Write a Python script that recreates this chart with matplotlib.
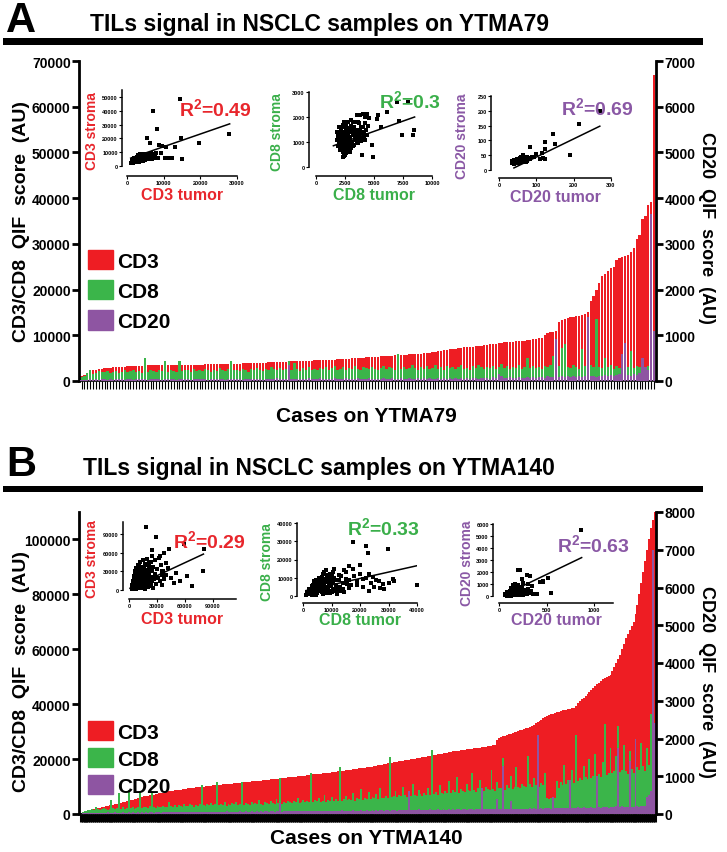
import numpy as np
import matplotlib
matplotlib.use('Agg')
import matplotlib.pyplot as plt
from matplotlib.patches import Rectangle, Patch

W, H, DPI = 727, 853, 100
FAM = ['Liberation Sans', 'DejaVu Sans']
plt.rcParams['font.family'] = FAM
plt.rcParams['font.weight'] = 'bold'
plt.rcParams['mathtext.fontset'] = 'custom'
plt.rcParams['mathtext.rm'] = 'Liberation Sans:bold'
plt.rcParams['mathtext.bf'] = 'Liberation Sans:bold'
plt.rcParams['mathtext.it'] = 'Liberation Sans:bold'

RED, GREEN, PURPLE = '#EE1D23', '#3BB54A', '#8E55A2'
TRED, TGREEN, TPURPLE = '#E8262C', '#3AAF4A', '#8A58A5'

# ---------------- Panel A data (YTMA79) ----------------
# CD3 (x100), CD8 (x100) on left axis; CD20 (x10) on right axis
a_cd3 = [10, 13, 17, 20, 23, 25, 26, 27, 28, 29,
         29, 30, 30, 31, 31, 31, 32, 32, 32, 33,
         33, 33, 33, 34, 34, 34, 34, 34, 35, 35,
         35, 35, 35, 35, 35, 36, 36, 36, 36, 36,
         36, 36, 36, 37, 37, 37, 37, 37, 37, 37,
         38, 38, 38, 38, 38, 38, 39, 39, 39, 39,
         39, 40, 40, 40, 40, 41, 41, 41, 41, 42,
         42, 42, 42, 43, 43, 43, 43, 44, 44, 44,
         44, 45, 45, 45, 46, 46, 46, 47, 47, 48,
         48, 48, 49, 49, 50, 50, 50, 51, 51, 52,
         52, 52, 53, 53, 54, 54, 54, 55, 55, 56,
         56, 56, 57, 57, 58, 58, 59, 59, 60, 61,
         61, 62, 63, 64, 65, 66, 67, 68, 69, 70,
         71, 72, 73, 74, 74, 75, 75, 76, 76, 77,
         78, 79, 80, 81, 82, 83, 84, 85, 85, 86,
         86, 87, 87, 88, 88, 89, 90, 91, 92, 93,
         95, 100, 105, 107, 108, 110, 130, 133, 135, 137,
         139, 140, 142, 143, 145, 147, 150, 175, 185, 200,
         215, 230, 235, 240, 248, 250, 265, 270, 272, 274,
         276, 282, 290, 310, 320, 355, 360, 385, 392, 670]
a_cd8 = [8, 12, 18, 25, 16, 18, 22, 19, 20, 21,
         17, 19, 22, 18, 20, 24, 19, 21, 23, 20,
         22, 18, 51, 20, 24, 21, 19, 23, 22, 44,
         20, 24, 22, 19, 44, 21, 25, 23, 20, 26,
         22, 24, 21, 27, 23, 20, 25, 22, 28, 24,
         21, 26, 43, 23, 25, 22, 27, 24, 20, 26,
         23, 28, 25, 22, 27, 24, 30, 26, 23, 29,
         25, 27, 44, 24, 40, 26, 22, 28, 25, 30,
         24, 27, 23, 29, 26, 31, 24, 28, 33, 25,
         27, 30, 24, 28, 26, 32, 27, 25, 30, 28,
         26, 31, 27, 24, 29, 33, 26, 30, 28, 25,
         60, 27, 31, 26, 29, 34, 28, 25, 30, 27,
         32, 26, 29, 35, 27, 30, 25, 33, 28, 31,
         26, 30, 34, 27, 29, 25, 32, 28, 36, 30,
         27, 31, 29, 33, 26, 30, 38, 28, 32, 27,
         31, 29, 34, 27, 30, 50, 28, 33, 29, 31,
         27, 32, 30, 35, 55, 29, 33, 72, 80, 30,
         28, 34, 31, 27, 70, 33, 29, 36, 30, 135,
         31, 28, 50, 30, 34, 27, 32, 29, 36, 75,
         31, 65, 28, 33, 30, 35, 29, 32, 55, 30]
a_cd20 = [2, 3, 3, 4, 3, 4, 3, 4, 4, 3,
          4, 3, 4, 4, 5, 3, 4, 4, 3, 4,
          4, 5, 4, 3, 4, 4, 5, 4, 3, 4,
          5, 4, 4, 3, 5, 4, 4, 5, 3, 4,
          4, 5, 4, 4, 3, 5, 4, 4, 5, 4,
          3, 4, 5, 4, 4, 5, 3, 4, 4, 5,
          4, 4, 5, 3, 4, 5, 4, 4, 6, 4,
          5, 4, 35, 4, 5, 4, 4, 5, 4, 6,
          4, 5, 4, 6, 4, 5, 4, 4, 6, 5,
          4, 5, 6, 4, 5, 4, 6, 5, 4, 5,
          6, 4, 5, 5, 4, 6, 5, 4, 6, 5,
          5, 6, 4, 5, 6, 5, 4, 6, 5, 6,
          5, 6, 5, 4, 6, 5, 7, 5, 6, 5,
          6, 5, 7, 5, 6, 5, 6, 7, 5, 6,
          7, 6, 5, 8, 6, 15, 12, 7, 6, 8,
          6, 7, 8, 6, 7, 9, 7, 8, 6, 9,
          8, 7, 10, 8, 9, 91, 8, 10, 9, 12,
          8, 10, 9, 11, 9, 10, 139, 10, 12, 9,
          11, 10, 13, 12, 14, 11, 13, 15, 60, 84,
          14, 12, 16, 13, 18, 50, 30, 25, 365, 110]

# ---------------- Panel B data (YTMA140) ----------------
# CD3 (x100), CD8 (x100) on left axis; CD20 (x10) on right axis
b_cd3 = [5, 6, 8, 10, 12, 14, 16, 18, 20,
         21, 23, 24, 26, 28, 29, 31, 32, 34, 35, 37, 39,
         40, 42, 44, 46, 48, 50, 52, 54, 56, 58, 60, 63,
         64, 66, 67, 68, 70, 71, 72, 74, 75, 76, 78, 79, 80, 82, 83, 84, 86, 87, 88, 89, 90, 91, 92, 94,
         95, 96, 96, 97, 98, 99, 99, 100, 101, 102, 102, 103, 104, 105, 105, 106, 107, 108, 108, 109, 110, 111, 111, 112,
         113, 113, 114, 115, 116, 116, 117, 118, 119, 119, 120, 121, 122, 122, 123, 124, 125, 125, 126, 127, 128, 128, 129, 130,
         131, 132, 132, 133, 134, 135, 136, 136, 137, 138, 139, 140, 140, 141, 142, 143, 144, 144, 145, 146, 147, 148, 148, 149,
         150, 151, 152, 153, 154, 155, 156, 157, 158, 159, 160, 161, 162, 163, 164, 165, 166, 167, 168, 169, 170, 171, 172, 173,
         174, 176, 177, 178, 180, 181, 182, 184, 185, 186, 188, 189, 190, 192, 193, 194, 196, 197, 198, 200, 201, 202, 203, 204,
         205, 206, 208, 209, 210, 212, 213, 214, 216, 217, 218, 220, 221, 222, 224, 225, 226, 228, 229, 230, 231, 232, 233, 234,
         235, 236, 237, 238, 239, 240, 241, 242, 243, 244, 245, 246, 248, 249, 250, 252,
         270, 277, 280, 283, 285, 287, 290,
         292, 295, 297, 300, 302, 305, 307, 310, 312, 315, 317, 320,
         325, 330, 335, 340, 344, 348, 352, 356, 360, 363, 366, 369,
         371, 373, 375, 377, 379, 380, 382, 383, 385, 386,
         395, 405, 412, 418, 423,
         430, 438, 445, 452, 458, 465, 472,
         478, 484, 490, 495, 500, 504, 508,
         520, 535, 550, 565, 580,
         600, 620, 640, 655, 670, 685, 700,
         730, 760, 800, 840, 880, 920, 960, 1000, 1040, 1070, 1100]
b_cd8 = [5, 8, 10, 12, 15, 14, 18, 16, 25, 17,
         15, 19, 22, 18, 16, 20, 51, 21, 17, 23,
         76, 19, 24, 20, 22, 88, 21, 25, 19, 23,
         26, 82, 22, 27, 24, 21, 28, 82, 25, 23,
         29, 26, 24, 30, 27, 25, 45, 28, 26, 31,
         27, 33, 29, 26, 38, 30, 28, 35, 31, 27,
         34, 30, 36, 106, 32, 29, 37, 33, 40, 31,
         35, 115, 32, 38, 34, 42, 30, 36, 33, 39,
         35, 44, 32, 37, 118, 34, 40, 36, 33, 45,
         37, 41, 35, 50, 38, 34, 42, 39, 36, 47,
         40, 37, 55, 41, 130, 38, 44, 40, 48, 42,
         39, 46, 43, 60, 41, 45, 52, 42, 47, 44,
         149, 43, 50, 46, 58, 44, 49, 70, 45, 52,
         48, 62, 46, 53, 49, 171, 47, 55, 66, 50,
         56, 52, 75, 49, 58, 54, 90, 51, 60, 56,
         80, 53, 62, 58, 72, 55, 95, 60, 57, 64,
         59, 207, 61, 66, 85, 62, 70, 64, 100, 68,
         63, 78, 66, 110, 69, 65, 88, 72, 67, 75,
         70, 95, 68, 232, 73, 80, 71, 105, 76, 74,
         82, 78, 120, 75, 86, 80, 135, 77, 90, 84,
         79, 110, 88, 82, 150, 86, 81, 95, 125, 89,
         84, 100, 92, 87, 160, 90, 85, 115, 95, 93,
         204, 88, 105, 96, 140, 92, 100, 170, 98, 94,
         110, 102, 97, 210, 108, 100, 130, 104, 256, 99,
         112, 107, 150, 60, 55, 58, 62, 57, 120, 96,
         115, 105, 180, 110, 125, 118, 160, 112, 289, 120,
         130, 125, 175, 135, 128, 200, 132, 140, 220, 138,
         145, 135, 190, 326, 142, 150, 240, 148, 155, 210,
         322, 152, 160, 250, 158, 145, 230, 165, 150, 200,
         170, 160, 260, 175, 155, 240, 180, 365, 190, 140]
b_cd20 = [1, 2, 2, 3, 2, 3, 2, 3, 3, 2,
          3, 3, 2, 3, 4, 3, 3, 2, 4, 3,
          3, 3, 4, 3, 3, 4, 3, 4, 3, 3,
          4, 3, 4, 3, 4, 3, 4, 4, 3, 5,
          4, 4, 3, 5, 4, 4, 5, 4, 5, 4,
          5, 4, 4, 5, 5, 4, 6, 5, 4, 5,
          5, 6, 4, 5, 5, 6, 5, 5, 6, 5,
          6, 5, 6, 5, 6, 5, 7, 6, 5, 6,
          5, 6, 6, 7, 5, 6, 7, 6, 6, 7,
          6, 6, 7, 6, 7, 6, 8, 7, 6, 7,
          7, 6, 8, 7, 30, 6, 7, 8, 7, 8,
          7, 7, 8, 7, 8, 7, 9, 8, 7, 8,
          8, 7, 9, 8, 8, 7, 9, 8, 8, 9,
          8, 8, 9, 8, 9, 8, 10, 9, 8, 9,
          9, 8, 10, 9, 9, 8, 10, 9, 9, 10,
          9, 9, 10, 9, 10, 9, 11, 10, 9, 10,
          10, 9, 11, 10, 10, 9, 11, 10, 10, 11,
          10, 60, 11, 10, 11, 10, 12, 11, 10, 11,
          11, 10, 12, 11, 11, 10, 12, 11, 11, 12,
          11, 11, 12, 11, 12, 11, 13, 12, 11, 12,
          12, 11, 13, 12, 12, 11, 13, 12, 13, 70,
          12, 12, 13, 12, 13, 12, 14, 40, 12, 13,
          126, 12, 14, 13, 35, 12, 14, 13, 13, 14,
          13, 13, 14, 13, 15, 14, 15, 14, 210, 14,
          15, 14, 16, 15, 15, 14, 45, 15, 15, 16,
          16, 15, 17, 16, 16, 90, 17, 16, 16, 18,
          17, 16, 18, 17, 17, 16, 18, 17, 17, 100,
          18, 17, 19, 18, 18, 17, 19, 18, 18, 20,
          175, 18, 20, 19, 19, 18, 140, 19, 19, 200,
          20, 19, 21, 20, 20, 45, 50, 60, 700, 240]

# ---------------- Inset scatter data ----------------
# panel A, CD3 tumor vs stroma (x100)
a_cd3_pts = [(12, 25), (15, 30), (18, 28), (20, 35), (22, 32), (14, 40), (25, 38), (28, 30), (30, 42), (16, 22),
             (19, 45), (24, 27), (26, 50), (32, 36), (35, 40), (21, 33), (27, 44), (33, 55), (38, 48), (17, 35),
             (23, 29), (29, 37), (31, 46), (36, 33), (40, 52), (42, 45), (13, 33), (34, 62), (45, 58), (37, 70),
             (48, 42), (50, 65), (44, 38), (39, 60), (52, 50), (55, 72), (47, 80), (41, 56), (58, 48), (60, 62),
             (62, 85), (46, 90), (54, 55), (65, 70), (43, 75), (57, 88), (68, 52), (35, 90), (30, 78), (26, 65),
             (20, 55), (24, 48), (28, 58), (33, 45), (36, 52), (41, 40), (15, 50), (18, 42), (22, 60), (27, 36),
             (32, 28), (38, 34), (44, 50), (49, 46), (53, 60), (59, 80), (63, 55), (70, 68), (72, 90), (75, 85),
             (80, 60), (85, 55), (66, 95), (78, 95),
             (144, 483), (70, 395), (81, 268), (54, 200), (63, 170), (96, 146), (106, 141), (131, 134),
             (147, 200), (196, 163), (151, 49), (122, 61), (104, 61), (279, 232), (111, 56), (88, 150), (92, 95)]
a_cd3_fit = ([1000, 28000], [5700, 30500])
# panel A, CD8 (x10)
a_cd8_pts = [(180, 110), (200, 95), (210, 130), (220, 80), (230, 120), (240, 100), (250, 140), (260, 90), (270, 115), (280, 105),
             (190, 125), (205, 70), (215, 150), (225, 105), (235, 85), (245, 160), (255, 110), (265, 75), (275, 130), (285, 95),
             (195, 100), (210, 115), (220, 140), (230, 60), (240, 135), (250, 120), (260, 165), (270, 88), (280, 125), (290, 110),
             (300, 140), (310, 100), (320, 130), (330, 160), (340, 110), (350, 150), (360, 120), (370, 175), (380, 135), (390, 105),
             (200, 140), (215, 95), (225, 160), (235, 125), (245, 70), (255, 145), (265, 100), (275, 155), (285, 140), (295, 120),
             (305, 165), (315, 85), (325, 145), (335, 125), (345, 180), (355, 135), (365, 95), (375, 150), (385, 160), (400, 140),
             (410, 120), (420, 175), (430, 150), (440, 130), (450, 165), (320, 180), (300, 75), (290, 60), (260, 55), (240, 45),
             (230, 40), (250, 50), (270, 65), (280, 180), (240, 180), (230, 170), (300, 190), (310, 150), (330, 90), (350, 105),
             (360, 180), (370, 125), (395, 115), (405, 160), (415, 135), (425, 110), (210, 105), (220, 90), (245, 115), (265, 130),
             (275, 110), (285, 80), (295, 145), (190, 85), (185, 140), (200, 160), (205, 120), (350, 210), (380, 210), (420, 200),
             (408, 213), (437, 213), (523, 193), (532, 207), (609, 220), (695, 260), (715, 183), (738, 129), (839, 127),
             (845, 150), (796, 260), (494, 40), (394, 47), (293, 67), (560, 160), (480, 90), (460, 195)]
a_cd8_fit = ([1500, 8500], [850, 2000])
# panel A, CD20
a_cd20_pts = [(35, 25), (38, 30), (40, 22), (42, 28), (44, 33), (46, 26), (48, 30), (50, 24), (52, 35), (54, 28),
              (36, 32), (39, 20), (41, 35), (43, 24), (45, 30), (47, 38), (49, 27), (51, 31), (53, 25), (55, 40),
              (57, 29), (59, 33), (61, 26), (63, 36), (65, 30), (67, 42), (69, 28), (71, 35), (73, 32), (75, 45),
              (58, 44), (62, 38), (66, 34), (70, 40), (74, 30), (78, 36), (80, 42), (84, 38), (88, 44), (64, 50),
              (56, 36), (60, 31), (68, 37), (72, 27), (37, 27), (46, 34), (50, 29), (54, 33), (44, 22), (76, 33),
              (83, 78), (123, 94), (145, 120), (151, 89), (123, 70), (119, 39), (123, 37), (115, 56), (191, 51),
              (215, 156), (270, 198), (110, 37), (100, 55), (95, 45)]
a_cd20_fit = ([40, 270], [7, 148])
# panel B, CD3 (x1000)
b_cd3_pts = [(3, 2), (4, 5), (5, 1), (5, 8), (6, 3), (6, 12), (7, 6), (7, 15), (8, 2), (8, 10),
             (9, 18), (9, 5), (10, 8), (10, 22), (11, 3), (11, 14), (12, 26), (12, 9), (13, 4), (13, 17),
             (14, 30), (14, 11), (15, 6), (15, 20), (16, 35), (16, 13), (17, 2), (17, 24), (18, 9), (18, 40),
             (19, 15), (19, 28), (20, 5), (20, 33), (21, 19), (21, 42), (22, 11), (22, 25), (23, 36), (23, 7),
             (24, 21), (24, 45), (25, 14), (25, 30), (26, 3), (26, 38), (27, 18), (28, 48), (28, 26), (29, 10),
             (30, 34), (31, 20), (32, 52), (33, 15), (34, 40), (35, 25), (36, 8), (37, 30), (38, 18), (40, 44),
             (4, 12), (5, 18), (6, 25), (7, 30), (8, 22), (9, 35), (10, 28), (11, 40), (12, 45), (13, 33),
             (6, 7), (7, 1), (8, 14), (9, 26), (10, 3), (11, 30), (12, 16), (13, 38), (14, 22), (15, 48),
             (16, 4), (17, 31), (18, 20), (19, 50), (20, 12), (21, 27), (22, 38), (23, 16), (24, 30), (25, 55),
             (3, 8), (4, 15), (5, 22), (6, 30), (7, 20), (8, 35), (9, 12), (10, 40), (11, 23), (12, 34),
             (14, 4), (16, 26), (18, 32), (20, 22), (22, 46), (24, 10), (26, 20), (15, 38), (13, 26), (17, 42),
             (18, 102), (29, 86), (25, 64), (43, 66), (59, 74), (81, 66), (79, 30), (68, 7), (45, 20), (50, 28),
             (55, 15), (38, 60), (35, 30), (42, 35), (48, 12), (62, 22), (33, 55), (40, 25)]
b_cd3_fit = ([1000, 80000], [2800, 58100])
# panel B, CD8 (x100)
b_cd8_pts = [(10, 5), (15, 20), (20, 10), (25, 30), (30, 15), (35, 40), (40, 25), (45, 8), (50, 50), (55, 30),
             (60, 60), (65, 20), (70, 45), (75, 70), (80, 35), (85, 90), (90, 55), (95, 15), (100, 75), (105, 40),
             (110, 100), (115, 60), (120, 30), (125, 85), (130, 50), (135, 110), (140, 70), (145, 20), (150, 95), (155, 65),
             (20, 40), (30, 55), (40, 70), (50, 85), (60, 100), (70, 120), (80, 140), (90, 80), (100, 110), (110, 150),
             (25, 15), (35, 25), (45, 35), (55, 45), (65, 55), (75, 65), (85, 75), (95, 120), (105, 130), (115, 90),
             (30, 5), (40, 12), (50, 18), (60, 25), (70, 10), (80, 15), (90, 28), (100, 20), (120, 12), (130, 25),
             (50, 65), (60, 40), (70, 80), (80, 95), (90, 110), (65, 105), (75, 130), (85, 115), (45, 60), (55, 75),
             (35, 60), (40, 45), (45, 90), (55, 100), (60, 80), (70, 65), (85, 50), (95, 95), (105, 70), (125, 115),
             (140, 40), (150, 130), (160, 85), (170, 60), (180, 110), (160, 45), (175, 150), (190, 80), (200, 120), (210, 95),
             (28, 35), (38, 80), (48, 30), (58, 55), (68, 35), (78, 50), (88, 40), (98, 60), (108, 25), (118, 45),
             (176, 295), (222, 275), (228, 235), (298, 260), (315, 95), (400, 60), (200, 170), (160, 165), (145, 140),
             (220, 100), (240, 70), (250, 50), (270, 45), (280, 65), (265, 80), (190, 60), (210, 50), (230, 30),
             (180, 110), (230, 120), (255, 90), (300, 70), (320, 80), (285, 40), (245, 105)]
b_cd8_fit = ([1000, 40000], [2950, 16600])
# panel B, CD20
b_cd20_pts = [(60, 50), (70, 120), (80, 20), (90, 200), (100, 80), (110, 300), (120, 150), (130, 40), (140, 250), (150, 100),
              (160, 400), (170, 180), (180, 60), (190, 350), (200, 220), (210, 90), (220, 500), (230, 280), (240, 130), (250, 450),
              (80, 300), (90, 100), (100, 250), (110, 30), (120, 400), (130, 200), (140, 80), (150, 500), (160, 150), (170, 60),
              (180, 600), (190, 250), (200, 100), (210, 700), (220, 320), (230, 180), (240, 550), (250, 80), (260, 400), (270, 200),
              (65, 150), (75, 60), (85, 180), (95, 30), (105, 220), (115, 90), (125, 350), (135, 120), (145, 600), (155, 300),
              (165, 700), (175, 450), (185, 800), (195, 150), (205, 900), (215, 380), (225, 650), (235, 250), (245, 750), (255, 300),
              (280, 500), (290, 150), (300, 350), (310, 600), (320, 250), (340, 450), (360, 150), (150, 900), (170, 1000), (130, 650),
              (868, 5500), (224, 2140), (328, 1670), (433, 1170), (468, 1250), (247, 1390), (160, 920), (515, 1470),
              (460, 1200), (552, 220), (198, 2200), (290, 1750), (400, 200), (350, 800), (300, 1000), (250, 1100)]
b_cd20_fit = ([100, 870], [270, 3200])

r2_texts = ['0.49', '0.3', '0.69', '0.29', '0.33', '0.63']

fig = plt.figure(figsize=(W / DPI, H / DPI), dpi=DPI)


def pxbox(left, top, right, bottom):
    return [left / W, 1 - bottom / H, (right - left) / W, (bottom - top) / H]


def T(x, y, s, **kw):
    return fig.text(x / W, 1 - y / H, s, **kw)


def header(letter, title, base_y, rule_top, rule_bot):
    T(6, base_y + 1, letter, fontsize=30, va='baseline', ha='left')
    T(319, base_y, title, fontsize=16.5, va='baseline', ha='center')
    fig.add_artist(Rectangle((3 / W, 1 - rule_bot / H), 700 / W, (rule_bot - rule_top) / H,
                             transform=fig.transFigure, color='black', lw=0))


def main_panel(top, bottom, cd3, cd8, cd20, s_left, s_right, lmax, lticks, rmax, rticks,
               width, tickw, leg_top, leg_space, xlabel, xlabel_y, llab_y, rlab_y):
    ax = fig.add_axes(pxbox(79, top, 656, bottom))
    n = len(cd3)
    x = np.arange(n)
    ax.bar(x, np.array(cd3) * s_left, width=width, color=RED, linewidth=0)
    ax.bar(x, np.array(cd8) * s_left, width=width, color=GREEN, linewidth=0)
    ax.set_xlim(-0.9, n - 0.3)
    ax.set_ylim(0, lmax)
    ax.set_yticks(lticks)
    ax.set_xticks(x)
    ax.tick_params(axis='x', length=6, width=tickw, labelbottom=False, direction='out')
    ax.tick_params(axis='y', length=5, width=2, labelsize=10, pad=1)
    ax.spines['top'].set_visible(False)
    ax.spines['right'].set_visible(False)
    ax.spines['left'].set_linewidth(2)
    ax.spines['bottom'].set_linewidth(1.2)
    ax2 = ax.twinx()
    ax2.bar(x, np.array(cd20) * s_right, width=width, color=PURPLE, linewidth=0)
    ax2.set_ylim(0, rmax)
    ax2.set_yticks(rticks)
    for s in ['top', 'left', 'bottom']:
        ax2.spines[s].set_visible(False)
    ax2.spines['right'].set_linewidth(2)
    ax2.tick_params(axis='y', length=5, width=2, labelsize=10, pad=1)
    handles = [Patch(color=RED, label='CD3'), Patch(color=GREEN, label='CD8'),
               Patch(color=PURPLE, label='CD20')]
    ax2.legend(handles=handles, loc='upper left', bbox_to_anchor=(88 / W, 1 - leg_top / H),
               bbox_transform=fig.transFigure, frameon=False, fontsize=15,
               handlelength=1.2, handleheight=1.05, handletextpad=0.2, labelspacing=leg_space,
               borderpad=0, borderaxespad=0)
    T(366, xlabel_y, xlabel, fontsize=15, ha='center', va='center')
    T(22, llab_y, 'CD3/CD8  QIF  score  (AU)', fontsize=14, rotation=90, ha='center', va='center')
    T(707, rlab_y, 'CD20  QIF  score  (AU)', fontsize=13, rotation=270, ha='center', va='center')


def inset(x0, x1, y0, y1, xmax, ymax, xticks, yticks, offx, offy, pts, scale, fit,
          color, ylabel, ylab_x, xlabel, xlab_y, r2, r2_xy):
    ax = fig.add_axes(pxbox(x0 - offx, y1, x1, y0 + offy))
    ax.set_xlim(-offx / (x1 - x0) * xmax, xmax)
    ax.set_ylim(-offy / (y0 - y1) * ymax, ymax)
    ax.patch.set_alpha(0)
    ax.spines['top'].set_visible(False)
    ax.spines['right'].set_visible(False)
    ax.spines['bottom'].set_bounds(0, xmax)
    ax.spines['left'].set_bounds(0, ymax)
    for s in ['bottom', 'left']:
        ax.spines[s].set_linewidth(1.1)
    xs = np.array([p[0] for p in pts]) * scale
    ys = np.array([p[1] for p in pts]) * scale
    ax.scatter(xs, ys, marker='s', s=5.5, color='black', linewidths=0, clip_on=False)
    ax.plot(fit[0], fit[1], color='black', lw=1.1)
    ax.set_xticks(xticks)
    ax.set_yticks(yticks)
    ax.tick_params(labelsize=4, length=2, width=0.8, pad=1)
    T(ylab_x, (y0 + y1) / 2 + 2, ylabel, fontsize=10, color=color, rotation=90, ha='center', va='center')
    T((x0 + x1) / 2, xlab_y, xlabel, fontsize=11.5, color=color, ha='center', va='center')
    T(r2_xy[0], r2_xy[1], r'R$^{2}$=' + r2, fontsize=14, color=color, ha='center', va='center')


# ---------------- Panel A ----------------
header('A', 'TILs signal in NSCLC samples on YTMA79', 31, 39, 46)
main_panel(62, 382, a_cd3, a_cd8, a_cd20, 100, 10, 70000, np.arange(0, 70001, 10000),
           7000, np.arange(0, 7001, 1000), 0.8, 0.8, 251, 0.45, 'Cases on YTMA79', 417, 222, 228)
inset(127, 237, 167, 91, 30000, 55000, [0, 10000, 20000, 30000], np.arange(0, 50001, 10000),
      5, 10, a_cd3_pts, 100, a_cd3_fit, TRED, 'CD3 stroma', 92, 'CD3 tumor', 196, r2_texts[0], (215, 109))
inset(316, 432, 168, 93, 10000, 3000, [0, 2500, 5000, 7500, 10000], [0, 1000, 2000, 3000],
      7, 9, a_cd8_pts, 10, a_cd8_fit, TGREEN, 'CD8 stroma', 277, 'CD8 tumor', 196, r2_texts[1], (410, 101))
inset(499, 611, 171, 97, 300, 250, [0, 100, 200, 300], [0, 50, 100, 150, 200, 250],
      8, 8, a_cd20_pts, 1, a_cd20_fit, TPURPLE, 'CD20 stroma', 462, 'CD20 tumor', 198, r2_texts[2], (597, 108))

# ---------------- Panel B ----------------
header('B', 'TILs signal in NSCLC samples on YTMA140', 475, 487, 493)
main_panel(513, 815, b_cd3, b_cd8, b_cd20, 100, 10, 110000, np.arange(0, 100001, 20000),
           8000, np.arange(0, 8001, 1000), 1.0, 2.2, 722, 0.3, 'Cases on YTMA140', 839, 672, 682)
inset(129, 236, 591, 523, 115000, 110000, [0, 30000, 60000, 90000], [0, 30000, 60000, 90000],
      6, 9, b_cd3_pts, 1000, b_cd3_fit, TRED, 'CD3 stroma', 92, 'CD3 tumor', 620, r2_texts[3], (209, 541))
inset(303, 417, 597, 524, 40000, 40000, np.arange(0, 40001, 10000), np.arange(0, 40001, 10000),
      6, 7, b_cd8_pts, 100, b_cd8_fit, TGREEN, 'CD8 stroma', 267, 'CD8 tumor', 621, r2_texts[4], (383, 528))
inset(499, 613, 597, 525, 1200, 6000, [0, 500, 1000], np.arange(0, 6001, 1000),
      6, 7, b_cd20_pts, 1, b_cd20_fit, TPURPLE, 'CD20 stroma', 467, 'CD20 tumor', 621, r2_texts[5], (593, 545))

fig.savefig('out.png', dpi=DPI)
